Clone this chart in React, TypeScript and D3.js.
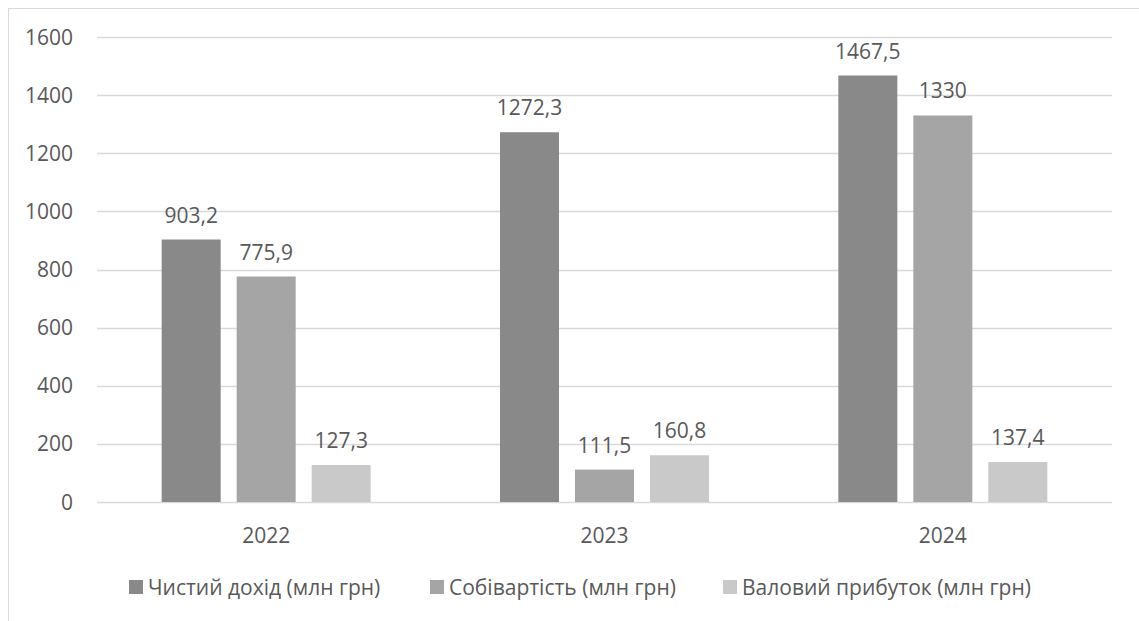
import React from "react";
import * as d3 from "d3";

const years = ["2022", "2023", "2024"];
const seriesNames = [
  "Чистий дохід (млн грн)",
  "Собівартість (млн грн)",
  "Валовий прибуток (млн грн)",
];
const netIncome = [903.2, 1272.3, 1467.5];
const costOfSales = [775.9, 111.5, 1330];
const grossProfit = [127.3, 160.8, 137.4];
const valueLabels = [
  ["903,2", "1272,3", "1467,5"],
  ["775,9", "111,5", "1330"],
  ["127,3", "160,8", "137,4"],
];
const yTicks = [0, 200, 400, 600, 800, 1000, 1200, 1400, 1600];
const colors = ["#898989", "#a5a5a5", "#c9c9c9"];

const W = 1139;
const H = 621;
const FONT = "'Open Sans', 'Noto Sans', sans-serif";
const TEXT = "#595959";
const GRID = "#d9d9d9";
const FS = 21;

export default function App() {
  const series = [netIncome, costOfSales, grossProfit];
  const x0 = d3.scaleBand<string>().domain(years).range([97, 1112]).paddingInner(0).paddingOuter(0);
  const barW = 59;
  const gap = 16;
  const y = d3.scaleLinear().domain([0, 1600]).range([502, 37]);

  const legendX = [129, 430, 723];

  return (
    <svg
      width={W}
      height={H}
      style={{ position: "absolute", left: 0, top: 0, display: "block" }}
      fontFamily={FONT}
    >
      <rect x={0} y={0} width={W} height={H} fill="#ffffff" />
      <rect x={8.5} y={8.5} width={W + 20} height={H + 20} fill="none" stroke={GRID} strokeWidth={1} />
      {yTicks.map((t) => (
        <g key={t}>
          <line x1={97} x2={1112} y1={Math.round(y(t)) + 0.5} y2={Math.round(y(t)) + 0.5} stroke={GRID} strokeWidth={1.3} />
          <text x={73} y={y(t) + 7.5} textAnchor="end" fontSize={FS} fill={TEXT}>
            {t}
          </text>
        </g>
      ))}
      {years.map((yr, i) => {
        const cx = (x0(yr) as number) + x0.bandwidth() / 2;
        return (
          <g key={yr}>
            {series.map((s, j) => {
              const bx = cx - barW / 2 + (j - 1) * (barW + gap);
              const top = y(s[i]);
              return (
                <g key={j}>
                  <rect x={bx} y={top} width={barW} height={y(0) - top} fill={colors[j]} />
                  <text x={bx + barW / 2} y={top - 17} textAnchor="middle" fontSize={FS} fill={TEXT}>
                    {valueLabels[j][i]}
                  </text>
                </g>
              );
            })}
            <text x={cx} y={542.5} textAnchor="middle" fontSize={FS} fill={TEXT}>
              {yr}
            </text>
          </g>
        );
      })}
      {seriesNames.map((n, j) => (
        <g key={n}>
          <rect x={legendX[j]} y={580} width={14} height={14} fill={colors[j]} />
          <text x={legendX[j] + 19} y={594.5} fontSize={FS} fill={TEXT}>
            {n}
          </text>
        </g>
      ))}
    </svg>
  );
}
